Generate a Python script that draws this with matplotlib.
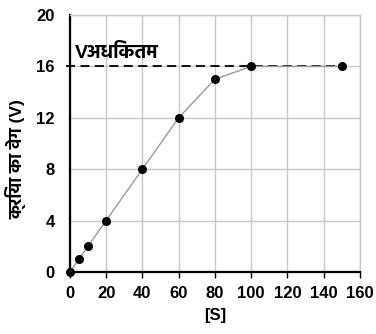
import matplotlib
matplotlib.use("Agg")
import matplotlib.pyplot as plt

substrate = [0, 5, 10, 20, 40, 60, 80, 100, 150]
velocity = [0, 1, 2, 4, 8, 12, 15, 16, 16]
vmax = 16
x_ticks = [0, 20, 40, 60, 80, 100, 120, 140, 160]
y_ticks = [0, 4, 8, 12, 16, 20]

plt.rcParams['font.family'] = ['Liberation Sans', 'Hind']
plt.rcParams['font.weight'] = 'bold'

fig = plt.figure(figsize=(3.76, 3.34), dpi=100)
ax = fig.add_axes([0.186, 0.186, 0.771, 0.769])

ax.plot(substrate, velocity, color='#999999', lw=1, zorder=3)
ax.plot(substrate, velocity, 'o', color='black', ms=5.5, zorder=4, clip_on=False)
ax.plot([-2, 152], [vmax, vmax], color='black', lw=1.3, ls=(0, (5, 3)),
        zorder=2, clip_on=False)
ax.text(2.8, vmax + 0.35, 'Vअधिकतम', fontsize=14, fontweight='bold', va='bottom')

ax.set_xlim(0, 160)
ax.set_ylim(0, 20)
ax.set_xticks(x_ticks)
ax.set_yticks(y_ticks)
ax.grid(True, color='#c8c8c8', lw=1)
ax.set_axisbelow(True)
for s in ['top', 'right']:
    ax.spines[s].set_color('#c8c8c8')
    ax.spines[s].set_linewidth(1)
for s in ['left', 'bottom']:
    ax.spines[s].set_linewidth(1.6)
ax.tick_params(axis='x', direction='out', length=4, width=1, labelsize=12, pad=6)
ax.tick_params(axis='y', length=0, labelsize=12, pad=11)

ax.set_xlabel('[S]', fontsize=12, fontweight='bold', labelpad=5)
ax.set_ylabel('क्रिया का वेग (V)', fontsize=12.5, fontweight='bold')
ax.yaxis.set_label_coords(-0.15, 0.44)

fig.savefig('out.png')
